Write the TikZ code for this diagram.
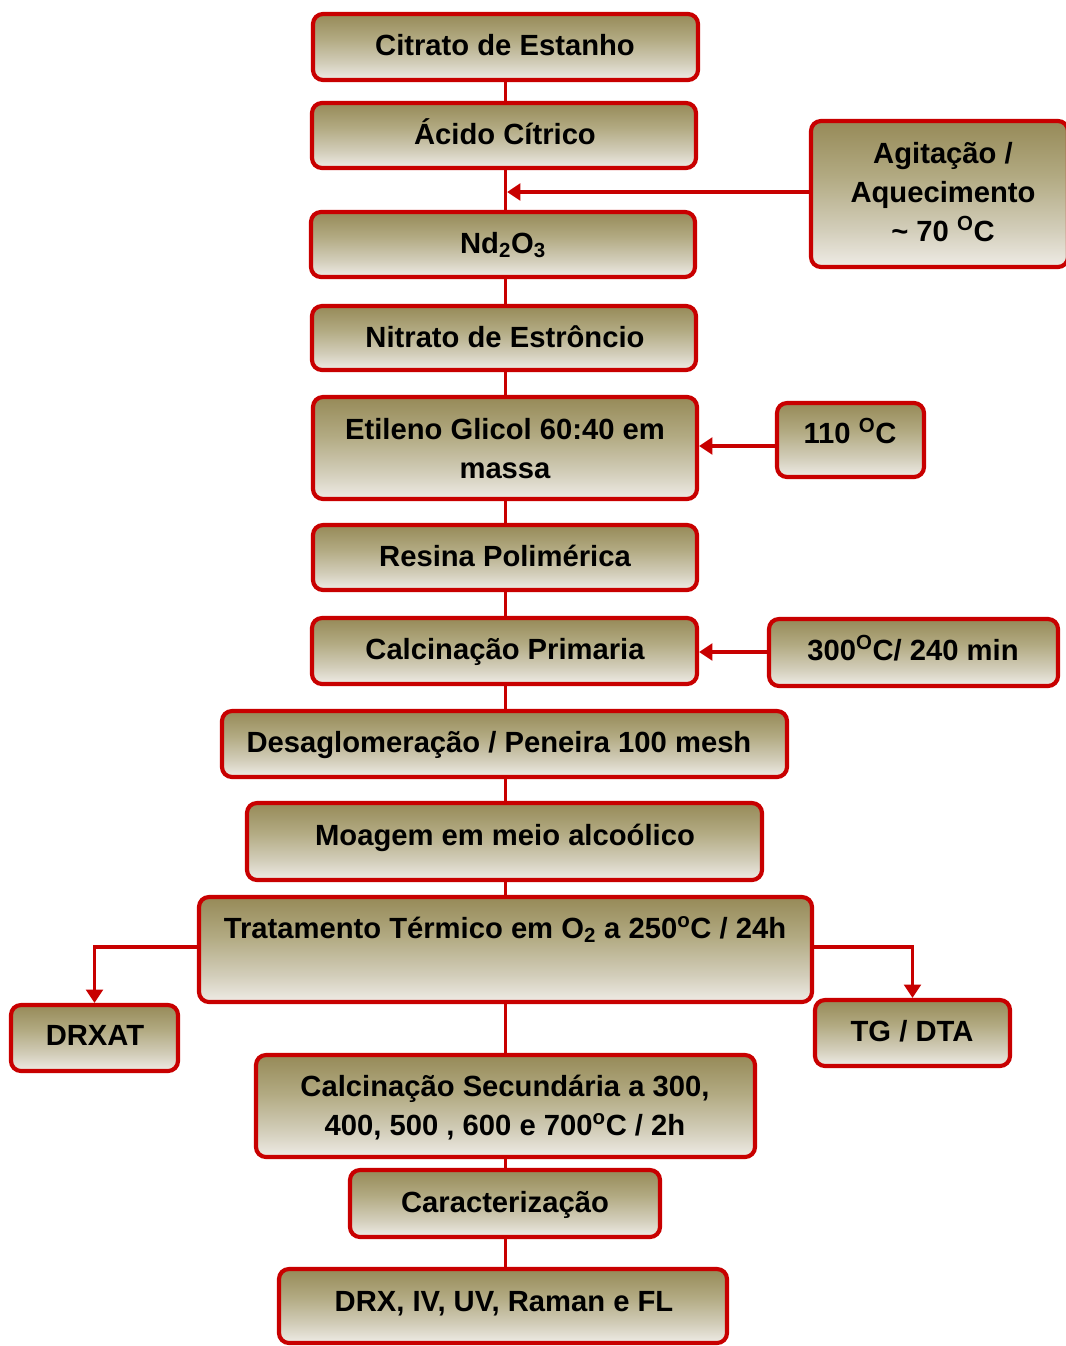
\documentclass[tikz,border=0pt]{standalone}
\usepackage{fontspec}
\setmainfont{Liberation Sans}
\usetikzlibrary{arrows.meta,calc}
\definecolor{bred}{RGB}{200,0,0}
\definecolor{sdark}{RGB}{150,138,88}
\definecolor{smidA}{RGB}{178,170,130}
\definecolor{smidB}{RGB}{210,205,185}
\definecolor{slight}{RGB}{239,236,230}
\pgfdeclareverticalshading{boxshade}{100bp}{color(0bp)=(slight); color(25bp)=(slight); color(38bp)=(smidB); color(56bp)=(smidA); color(75bp)=(sdark); color(100bp)=(sdark)}
\tikzset{
  boxst/.style={draw=bred, line width=3.1pt, rounded corners=7.5pt, shade, shading=boxshade, inner sep=0pt},
  txt/.style={font=\fontsize{21.9}{28.9}\selectfont\bfseries, anchor=base, align=center, inner sep=0pt},
  conn/.style={draw=bred, line width=2.5pt},
  arr/.style={conn, -{Triangle[length=10pt,width=12.5pt]}}
}
\newcommand{\bx}[5]{\node[boxst, minimum width={(#4-#2)*0.75pt}, minimum height={(#5-#3)*0.75pt}] (#1) at ({(#2+#4)/2},{(#3+#5)/2}) {};}
\begin{document}
\begin{tikzpicture}[x=0.75pt,y=-0.75pt]
\useasboundingbox (0,0) rectangle (1065,1346);
% boxes
\bx{cit}{313}{14}{698}{80}
\bx{aci}{312}{103}{696}{168}
\bx{agi}{811}{121}{1068}{267}
\bx{nd}{311}{212}{695}{277}
\bx{nit}{312}{306}{696}{370}
\bx{eg}{313}{397}{697}{499}
\bx{tcent}{777}{403}{924}{477}
\bx{res}{313}{525}{697}{590}
\bx{cp}{312}{618}{697}{684}
\bx{ttres}{769}{619}{1058}{686}
\bx{des}{222}{711}{787}{777}
\bx{moa}{247}{803}{762}{880}
\bx{tr}{199}{897}{812}{1002}
\bx{dx}{11}{1005}{178}{1071}
\bx{tg}{815}{1000}{1010}{1066}
\bx{cs}{256}{1055}{755}{1157}
\bx{car}{350}{1170}{660}{1237}
\bx{drx}{279}{1269}{727}{1343}
% texts (base = baseline of last line)
\node[txt] (cit-t) at (505,55) {Citrato de Estanho};
\node[txt] (aci-t) at (505,144) {Ácido Cítrico};
\node[txt] (agi-t) at (943,241) {Agitação /\\Aquecimento\\\textasciitilde{} 70 \textsuperscript{O}C};
\node[txt] (nd-t) at (503,253) {Nd\textsubscript{2}O\textsubscript{3}};
\node[txt] (nit-t) at (505,347) {Nitrato de Estrôncio};
\node[txt] (eg-t) at (505,478) {Etileno Glicol 60:40 em\\massa};
\node[txt] (tcent-t) at (850,443) {110 \textsuperscript{O}C};
\node[txt] (res-t) at (505,566) {Resina Polimérica};
\node[txt] (cp-t) at (505,659) {Calcinação Primaria};
\node[txt] (ttres-t) at (913,660) {300\textsuperscript{O}C/ 240 min};
\node[txt] (des-t) at (499,752) {Desaglomeração / Peneira 100 mesh};
\node[txt] (moa-t) at (505,845) {Moagem em meio alcoólico};
\node[txt] (tr-t) at (505,938) {Tratamento Térmico em O\textsubscript{2} a 250\textsuperscript{o}C / 24h};
\node[txt] (dx-t) at (95,1045) {DRXAT};
\node[txt] (tg-t) at (912,1041) {TG / DTA};
\node[txt] (cs-t) at (505,1135) {Calcinação Secundária a 300,\\400, 500 , 600 e 700\textsuperscript{o}C / 2h};
\node[txt] (car-t) at (505,1212) {Caracterização};
\node[txt] (drx-t) at (504,1311) {DRX, IV, UV, Raman e FL};
% trunk
\foreach \a/\b in {cit/aci,aci/nd,nd/nit,nit/eg,eg/res,res/cp,cp/des,des/moa,moa/tr,tr/cs,cs/car,car/drx}{
  \draw[conn] (cit.south |- \a.south) -- (cit.south |- \b.north);
}
% side arrows
\draw[arr, shorten >=1.2pt] (agi.west |- 0,192) -- (cit.south |- 0,192);
\draw[arr] (tcent.west |- 0,446) -- (eg.east |- 0,446);
\draw[arr] (ttres.west |- 0,652) -- (cp.east |- 0,652);
\draw[arr] (tr.west |- 0,947) -| (dx.north);
\draw[arr] (tr.east |- 0,947) -| (tg.north);
\end{tikzpicture}
\end{document}
